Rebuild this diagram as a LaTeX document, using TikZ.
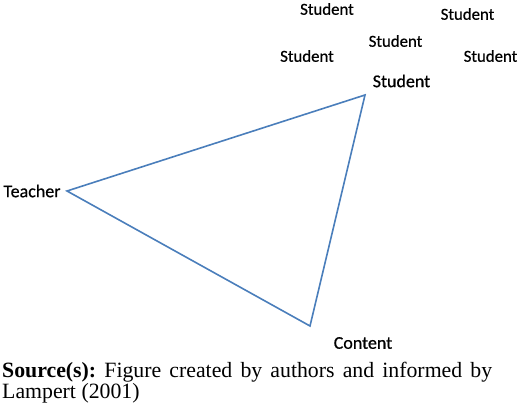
\documentclass[tikz,border=0pt]{standalone}
\usepackage{fontspec}
\setmainfont{Liberation Serif}
\newfontfamily\labelfont[FakeBold=0.6]{Carlito}
\definecolor{edgeblue}{HTML}{4A7EBB}
\frenchspacing
\begin{document}
\begin{tikzpicture}[x=1pt,y=1pt,
  lbl/.style={inner sep=0pt, font=\labelfont\fontsize{18}{20}\selectfont},
  ulbl/.style={inner sep=0pt, font=\labelfont\fontsize{16.8}{18}\selectfont},
  edge/.style={draw=edgeblue, line width=1.6pt, line join=miter},
  captext/.style={inner sep=0pt, anchor=base west, font=\fontsize{21.8}{21}\selectfont}]
\useasboundingbox (0,0) rectangle (520,412);
\coordinate (tv) at (67,221);
\coordinate (sv) at (365,317);
\coordinate (cv) at (310,86);
\draw[edge] (tv) -- (sv) -- (cv) -- cycle;
\node[lbl] (teacher) at (32,221) {Teacher};
\node[lbl] (student) at (401.5,331) {Student};
\node[lbl] (content) at (363,69) {Content};
\node[ulbl] (s1) at (327,403) {Student};
\node[ulbl] (s2) at (467.5,398) {Student};
\node[ulbl] (s3) at (395.5,371) {Student};
\node[ulbl] (s4) at (307,356) {Student};
\node[ulbl] (s5) at (490.5,356) {Student};
\node[captext] (cap1) at (2,34) {\makebox[490pt][s]{\textbf{Source(s):} Figure created by authors and informed by}};
\node[captext] (cap2) at (2,13) {Lampert (2001)};
\end{tikzpicture}
\end{document}
